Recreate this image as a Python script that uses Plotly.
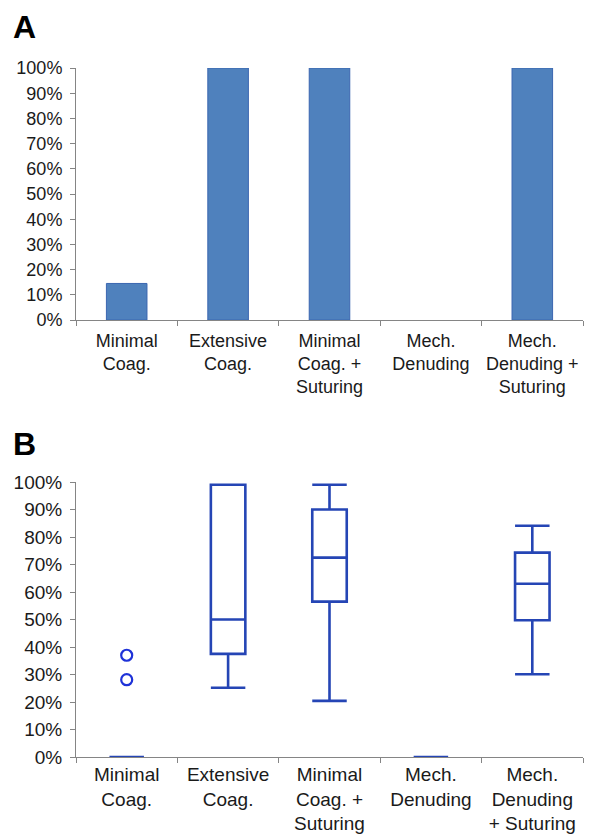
import plotly.graph_objects as go

# Panel A: share of cases per technique
treatments_a = [
    "Minimal<br>Coag.",
    "Extensive<br>Coag.",
    "Minimal<br>Coag. +<br>Suturing",
    "Mech.<br>Denuding",
    "Mech.<br>Denuding +<br>Suturing",
]
share_a = [0.145, 1.0, 1.0, 0.0, 1.0]

# Panel B: distribution summary per technique
treatments_b = [
    "Minimal<br>Coag.",
    "Extensive<br>Coag.",
    "Minimal<br>Coag. +<br>Suturing",
    "Mech.<br>Denuding",
    "Mech.<br>Denuding<br>+ Suturing",
]
q1_b = [0.0, 0.375, 0.565, 0.0, 0.497]
median_b = [0.0, 0.50, 0.725, 0.0, 0.63]
q3_b = [0.0, 0.99, 0.90, 0.0, 0.743]
lower_b = [0.0, 0.252, 0.204, 0.0, 0.301]
upper_b = [0.0, 0.99, 0.99, 0.0, 0.841]
outlier_x = ["Minimal<br>Coag.", "Minimal<br>Coag."]
outlier_y = [0.37, 0.281]

FONT = "Liberation Sans, Arial, sans-serif"
AXIS_GREY = "#858585"
BOX_BLUE = "#2545B5"
H = 837

fig = go.Figure()

fig.add_trace(go.Bar(
    x=treatments_a, y=share_a, width=0.4,
    marker=dict(color="#4F81BD",
                line=dict(color="#3B66B0", width=[1 if v > 0 else 0 for v in share_a])),
    xaxis="x", yaxis="y", showlegend=False,
))

fig.add_trace(go.Box(
    x=treatments_b, q1=q1_b, median=median_b, q3=q3_b,
    lowerfence=lower_b, upperfence=upper_b,
    width=0.34, whiskerwidth=1, boxpoints=False,
    line=dict(color=BOX_BLUE, width=2.6), fillcolor="rgba(255,255,255,0)",
    xaxis="x2", yaxis="y2", showlegend=False,
))

fig.add_trace(go.Scatter(
    x=outlier_x, y=outlier_y, mode="markers",
    marker=dict(symbol="circle-open", size=11, color="#1E32D8", line=dict(width=2.2)),
    xaxis="x2", yaxis="y2", showlegend=False,
))


def xaxis_style(size, standoff):
    return dict(
        type="category", range=[-0.5, 4.5], showline=True, linecolor=AXIS_GREY,
        linewidth=1, ticks="outside", tickson="boundaries", ticklen=5,
        tickcolor=AXIS_GREY, showgrid=False, zeroline=False, fixedrange=True,
        automargin=False, ticklabelstandoff=standoff, tickangle=0,
        tickfont=dict(family=FONT, size=size, color="#1a1a1a"),
    )


def yaxis_style(size):
    return dict(
        range=[0, 1], dtick=0.1, tickformat=".0%", showline=True,
        linecolor=AXIS_GREY, linewidth=1, ticks="outside", ticklen=5,
        tickcolor=AXIS_GREY, showgrid=False, zeroline=False, fixedrange=True,
        automargin=False, ticklabelstandoff=4,
        tickfont=dict(family=FONT, size=size, color="#1a1a1a"),
    )


fig.update_layout(
    width=607, height=H,
    margin=dict(l=76, r=24, t=0, b=0, autoexpand=False),
    paper_bgcolor="white", plot_bgcolor="white",
    xaxis=dict(xaxis_style(18, 4), domain=[0, 1], anchor="y"),
    yaxis=dict(yaxis_style(18), domain=[(H - 320) / H, (H - 68) / H], anchor="x"),
    xaxis2=dict(xaxis_style(19, 0), domain=[0, 1], anchor="y2"),
    yaxis2=dict(yaxis_style(19), domain=[(H - 757) / H, (H - 482) / H], anchor="x2"),
    annotations=[
        dict(text="<b>A</b>", x=-0.128, y=(H - 27) / H, xref="paper", yref="paper",
             xanchor="left", yanchor="middle", showarrow=False,
             font=dict(family=FONT, size=32, color="black")),
        dict(text="<b>B</b>", x=-0.128, y=(H - 444) / H, xref="paper", yref="paper",
             xanchor="left", yanchor="middle", showarrow=False,
             font=dict(family=FONT, size=32, color="black")),
    ],
)

fig.write_html("out.html")
